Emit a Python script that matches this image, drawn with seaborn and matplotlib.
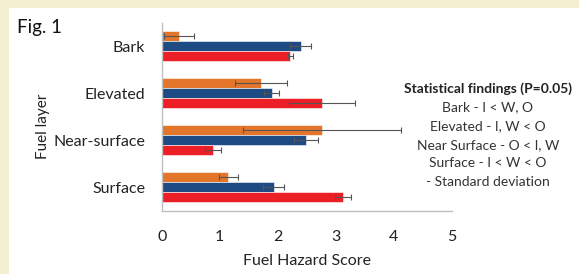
import matplotlib
matplotlib.use("Agg")
import matplotlib.pyplot as plt
from matplotlib.patches import Rectangle
import seaborn as sns
import pandas as pd
import numpy as np

# === Data ===
layers = ["Bark", "Elevated", "Near-surface", "Surface"]
series = ["I", "W", "O"]
score_I = [0.30, 1.71, 2.77, 1.15]
score_W = [2.40, 1.90, 2.49, 1.93]
score_O = [2.22, 2.77, 0.88, 3.13]
sd_I = [0.26, 0.45, 1.36, 0.17]
sd_W = [0.18, 0.13, 0.21, 0.18]
sd_O = [0.04, 0.57, 0.14, 0.14]
findings = ["Bark - I < W, O", "Elevated - I, W < O",
            "Near Surface - O < I, W", "Surface - I < W < O",
            "- Standard deviation"]

colors = {"I": "#E3762B", "W": "#1F4B85", "O": "#EC1F27"}

df = pd.DataFrame({
    "layer": layers * 3,
    "series": [s for s in series for _ in layers],
    "score": score_I + score_W + score_O,
})
sds = {"I": sd_I, "W": sd_W, "O": sd_O}

sns.set_style("white")
plt.rcParams["font.family"] = ["Lato", "DejaVu Sans"]

fig = plt.figure(figsize=(5.79, 2.74), dpi=100, facecolor="#F5EFD2")
# white panel inside the beige frame
fig.patches.append(Rectangle((9 / 579, 0), 1, 1 - 8 / 274, transform=fig.transFigure,
                             facecolor="white", edgecolor="none", zorder=-10))
ax = fig.add_axes([0.2793, 0.231, 0.5008, 0.685])
ax.set_facecolor("white")

sns.barplot(data=df, x="score", y="layer", hue="series", order=layers,
            hue_order=series, palette=colors, orient="h", width=0.64, saturation=1,
            errorbar=None, legend=False, linewidth=0.4, edgecolor="white", ax=ax)

# error bars (standard deviation)
for s, cont in zip(series, ax.containers):
    for bar, sd in zip(cont, sds[s]):
        yc = bar.get_y() + bar.get_height() / 2
        ax.errorbar(bar.get_width(), yc, xerr=sd, fmt="none", ecolor="#555555",
                    elinewidth=0.8, capsize=2.5, capthick=0.8, zorder=5)

ax.set_xlim(0, 5)
ax.set_ylim(3.5, -0.5)
ax.set_xticks(range(6))
ax.set_yticks(range(4))
ax.set_yticklabels(layers)
ax.set_yticks(np.arange(-0.5, 4, 1), minor=True)
ax.tick_params(axis="y", which="major", length=0, pad=12, labelsize=11.5, labelcolor="#222222")
ax.tick_params(axis="y", which="minor", direction="in", length=4, color="#BFBFBF", width=0.8)
ax.tick_params(axis="x", direction="in", length=4, color="#BFBFBF", width=0.8,
               labelsize=11.5, labelcolor="#222222", pad=14)
for side in ["top", "right"]:
    ax.spines[side].set_visible(False)
for side in ["left", "bottom"]:
    ax.spines[side].set_color("#BFBFBF")
    ax.spines[side].set_linewidth(1.0)

ax.set_xlabel("Fuel Hazard Score", fontsize=11.5, color="#222222", labelpad=7)
ax.set_ylabel("Fuel layer", fontsize=11, color="#222222")
ax.yaxis.set_label_coords(-0.385, 0.45)

fig.text(17 / 579, 1 - 27 / 274, "Fig. 1", fontsize=13.5, va="center", ha="left", color="#111111")

fig.text(488 / 579, 1 - 89 / 274, "Statistical findings (P=0.05)", fontsize=10,
         fontweight="bold", ha="center", va="center", color="#222222")
for i, line in enumerate(findings):
    fig.text(488 / 579, 1 - (107.5 + i * 18.6) / 274, line, fontsize=10,
             ha="center", va="center", color="#333333")

fig.savefig("out.png", dpi=100, facecolor=fig.get_facecolor())
